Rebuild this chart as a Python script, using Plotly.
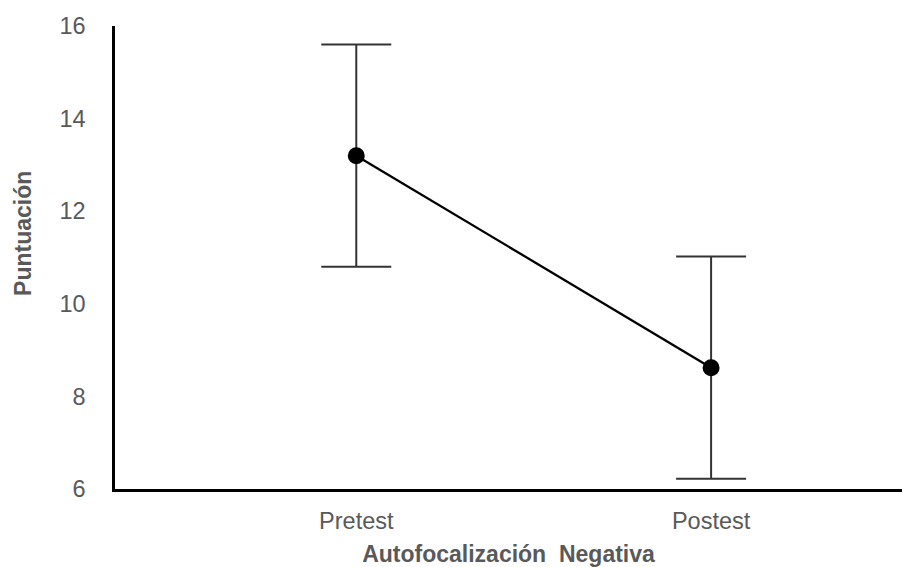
import plotly.graph_objects as go

categories = ["Pretest", "Postest"]
means = [13.2, 8.62]
errors = [2.4, 2.4]
y_ticks = [6, 8, 10, 12, 14, 16]

x_pos = list(range(len(categories)))

fig = go.Figure()
fig.add_trace(go.Scatter(
    x=x_pos, y=means,
    mode="lines+markers",
    line=dict(color="black", width=2.3),
    marker=dict(color="black", size=17),
    error_y=dict(type="data", array=errors, visible=True,
                 color="#333333", thickness=2, width=35),
    showlegend=False,
))

font_family = "Liberation Sans, Arial, sans-serif"
grey = "#595959"
fig.update_layout(
    width=902, height=567,
    margin=dict(l=115, r=0, t=26, b=78),
    paper_bgcolor="white", plot_bgcolor="white",
    font=dict(family=font_family, color=grey, size=23),
    xaxis=dict(
        range=[-0.68, 1.538],
        tickvals=x_pos, ticktext=categories,
        showline=True, linecolor="black", linewidth=2.5,
        showgrid=False, zeroline=False,
        ticks="", ticklabelstandoff=9,
        tickfont=dict(size=23.5, color=grey),
        title=dict(text="Autofocalización  Negativa", standoff=17,
                   font=dict(size=23, color=grey, weight="bold")),
    ),
    yaxis=dict(
        range=[6, 16],
        tickvals=y_ticks,
        showline=True, linecolor="black", linewidth=2.5,
        showgrid=False, zeroline=False,
        ticks="", ticklabelstandoff=22,
        tickfont=dict(size=23.5, color=grey),
    ),
    annotations=[dict(
        text="Puntuación", textangle=-90,
        xref="paper", yref="paper", x=0, y=0.551,
        xshift=-92, showarrow=False,
        xanchor="center", yanchor="middle",
        font=dict(size=23, color=grey, weight="bold"),
    )],
)

fig.write_html("out.html")
